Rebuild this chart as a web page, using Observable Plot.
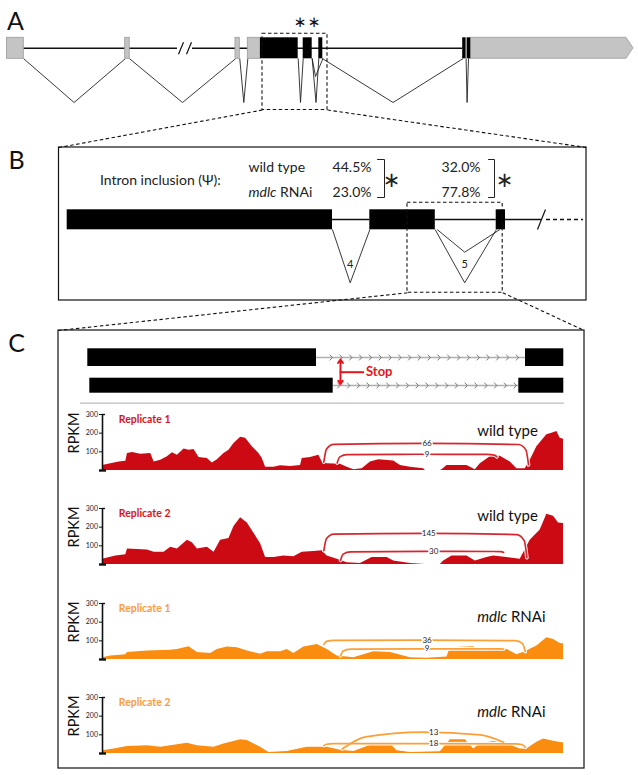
<!DOCTYPE html>
<html><head><meta charset="utf-8">
<script src="https://cdn.jsdelivr.net/npm/d3@7"></script>
<script src="https://cdn.jsdelivr.net/npm/@observablehq/plot@0.6"></script>
<style>
html,body{margin:0;padding:0;background:#fff;}
#fig{position:relative;width:638px;height:775px;overflow:hidden;}
#fig svg{position:absolute;}
</style></head><body><div id="fig"></div>
<script>
// ================= DATA =================
// Panel A gene model (gene coordinates, arbitrary units)
const geneA_utr = [[6.5,23.3],[124.7,129.2],[235,239.3],[247.3,260]];
const geneA_cds = [[260,297.7],[302.7,311.7],[318.3,322.3],[462.2,465.6],[466.6,470.3]];
const geneA_utr3 = [470.3, 626, 633];
const geneA_introns = [[23.3,177],[192,462.2]];
const geneA_breaks = [180.5, 188.5];
const geneA_splices = [[23.3,73.6,124.7],[129.2,182,235],[239.3,243.3,247.3],[297.7,300,302.7],[311.7,315.5,318.3],[322.3,392.6,462.2],[465.6,466.6,468]];
const geneA_altSplices = [[311.7,315,322.3]];
const geneA_stars = [299.5, 313.5];

// Panel B: zoomed exons / introns
const geneB_exons = [[66.7,332],[369.3,434.8],[495.7,505]];
const geneB_introns = [[332,369.3],[434.8,495.7],[505,541]];
const geneB_continue = [546,583];
const geneB_junctions = [{a:332,tip:349.7,b:369.3,label:"4",kind:"outer"},{a:434.8,tip:464.2,b:495.7,label:"5",kind:"outer"},{a:437,tip:464.2,b:499,label:"",kind:"inner"}];
const psiConditions = ["wild type","mdlc RNAi"];
const psiIntron4 = ["44.5%","23.0%"];
const psiIntron5 = ["32.0%","77.8%"];

// Panel C transcripts
const transcripts = [
  {exons:[[87.3,316],[525,563.3]]},
  {exons:[[89.3,332.7],[518.3,563.3]]}
];

// Coverage tracks: [position, RPKM]
const wt1 = [[125,27],[150,36],[175,45],[195,49],[200,91],[215,96],[240,87],[270,91],[280,45],[300,55],[320,73],[335,95],[350,82],[370,115],[385,109],[400,113],[415,69],[440,64],[455,40],[470,58],[490,91],[505,109],[520,145],[540,178],[555,173],[575,127],[595,91],[605,64],[615,18],[640,18],[660,25],[690,22],[720,27],[725,64],[750,69],[775,82],[785,45],[800,36],[840,33],[860,18],[880,4],[905,9],[930,45],[955,58],[1000,51],[1020,27],[1050,18],[1090,9],[1095,0],[1140,0],[1145,4],[1160,27],[1220,27],[1245,4],[1260,36],[1290,73],[1320,76],[1350,45],[1370,9],[1395,9],[1410,55],[1430,127],[1460,191],[1475,200],[1490,209],[1500,173],[1510,167]];
const wt2 = [[125,28],[165,46],[195,52],[200,83],[260,78],[280,65],[310,65],[330,93],[350,83],[380,130],[395,117],[410,83],[440,93],[460,65],[480,130],[505,139],[520,204],[540,250],[560,222],[580,167],[600,111],[615,37],[640,37],[670,46],[700,41],[725,65],[760,70],[785,74],[800,46],[830,28],[860,9],[900,6],[935,37],[980,37],[1000,19],[1050,6],[1095,0],[1140,0],[1150,19],[1175,46],[1220,46],[1245,19],[1280,37],[1300,46],[1340,37],[1380,28],[1410,130],[1440,185],[1460,269],[1480,259],[1495,222],[1510,219]];
const kd1 = [[125,10],[150,19],[195,25],[200,37],[260,46],[330,49],[350,54],[385,68],[410,37],[450,32],[470,54],[500,67],[530,63],[560,46],[600,28],[620,42],[660,42],[680,54],[700,32],[730,67],[770,81],[800,54],[830,19],[880,10],[940,42],[990,37],[1050,10],[1100,7],[1160,14],[1170,63],[1240,68],[1260,46],[1300,49],[1340,54],[1370,25],[1395,42],[1430,72],[1460,116],[1480,107],[1500,86],[1510,84]];
const kd2 = [[125,15],[160,24],[200,38],[260,42],[300,33],[380,55],[410,42],[460,33],[490,51],[540,73],[560,69],[600,33],[625,5],[680,11],[740,33],[800,33],[840,18],[880,11],[935,47],[990,51],[1010,15],[1050,5],[1140,9],[1170,73],[1215,73],[1240,24],[1260,51],[1300,64],[1340,51],[1380,24],[1400,24],[1430,60],[1450,78],[1480,65],[1510,56]];

// Junction reads: count, start, end, RPKM at ends / apex, label position
const wt1J = [{count:66,start:790,end:1405,y0:45,y1:30,top:145,at:1100},{count:9,start:830,end:1310,y0:40,y1:73,top:87,at:1100}];
const wt2J = [{count:145,start:790,end:1400,y0:74,y1:37,top:167,at:1105},{count:30,start:840,end:1330,y0:22,y1:65,top:70,at:1120}];
const kd1J = [{count:36,start:790,end:1395,y0:81,y1:42,top:104,at:1100},{count:9,start:840,end:1330,y0:19,y1:56,top:57,at:1100}];
const kd2J = [{count:13,start:845,end:1330,y0:24,y1:60,top:115,at:1120,round:true},{count:18,start:790,end:1395,y0:42,y1:33,top:53,at:1120}];

const rpkmTicks = [100,200,300];

// ================= DRAW =================
const FONT = "Lato, 'Open Sans', sans-serif";
const fig = document.getElementById("fig");
const place = (svg, left, top) => { svg.style.left = left + "px"; svg.style.top = top + "px"; fig.appendChild(svg); return svg; };
function italicize(svg) {
  d3.select(svg).selectAll("text").each(function() {
    if (this.childNodes.length === 1 && this.textContent === "mdlc RNAi") {
      const t = d3.select(this);
      t.text(null).style("white-space", "pre");
      t.append("tspan").attr("font-style", "italic").text("mdlc");
      t.append("tspan").text(" RNAi");
    }
  });
}

const A = {top:37.3, bot:58.3, line:47.8, tip:102, altTip:76};
const B = {top:209.3, bot:229.3, line:219, tip:282.3, innerTip:251.7};
const vPoints = (list, y0, yTip) => list.flatMap((d,i) => [{id:i,x:d[0],y:y0},{id:i,x:d[1],y:yTip},{id:i,x:d[2],y:y0}]);

const stopX = 340;
const chevronRows = [
  {from:330.7, to:520, y:357},
  {from:338.3, to:515, y:385}
];
const chevronPts = chevronRows.flatMap((r, ri) => d3.range(r.from, r.to, 9.8).flatMap((x, k) => {
  const id = ri * 100 + k;
  return [{id, x:x-1.2, y:r.y-2.6}, {id, x:x+1.2, y:r.y}, {id, x:x-1.2, y:r.y+2.6}];
}));

const bg = Plot.plot({
  width:638, height:775, margin:0,
  x:{domain:[0,638], range:[0,638], axis:null},
  y:{domain:[0,775], range:[0,775], axis:null},
  style:{fontFamily:FONT, background:"transparent"},
  marks:[
    // panel letters
    Plot.text(["A","B","C"], {x:[15,16,16], y:[21.5,160,343], text:d=>d, fontSize:25, fill:"#111"}),
    // ---------- Panel A ----------
    Plot.ruleY(geneA_introns, {x1:d=>d[0], x2:d=>d[1], y:()=>A.line, stroke:"#111", strokeWidth:1.6}),
    Plot.link(geneA_breaks, {x1:d=>d-2.5, x2:d=>d+2.5, y1:()=>A.line+6, y2:()=>A.line-6, stroke:"#111", strokeWidth:1.2}),
    Plot.line(vPoints(geneA_splices, A.bot, A.tip), {x:"x", y:"y", z:"id", stroke:"#222", strokeWidth:0.9}),
    Plot.line(vPoints(geneA_altSplices, A.bot, A.altTip), {x:"x", y:"y", z:"id", stroke:"#222", strokeWidth:0.9}),
    Plot.rect(geneA_utr, {x1:d=>d[0], x2:d=>d[1], y1:()=>A.top, y2:()=>A.bot, fill:"#c4c4c4", stroke:"#9a9a9a", strokeWidth:0.8}),
    Plot.areaY([{x:geneA_utr3[0],y1:A.top,y2:A.bot},{x:geneA_utr3[1],y1:A.top,y2:A.bot},{x:geneA_utr3[2],y1:(A.top+A.bot)/2,y2:(A.top+A.bot)/2}], {x:"x", y1:"y1", y2:"y2", fill:"#c4c4c4", stroke:"#9a9a9a", strokeWidth:0.8}),
    Plot.rect(geneA_cds, {x1:d=>d[0], x2:d=>d[1], y1:()=>A.top, y2:()=>A.bot, fill:"#000"}),
    Plot.text(geneA_stars, {x:d=>d, y:()=>22, text:()=>"∗", fontSize:15, fontFamily:"DejaVu Sans", fill:"#111"}),
    Plot.rect([0], {x1:()=>262, x2:()=>327, y1:()=>33.3, y2:()=>109.5, fill:"none", stroke:"#111", strokeWidth:1.1, strokeDasharray:"3.5,2.5"}),
    Plot.link([[262,58.5],[327,586]], {x1:d=>d[0], x2:d=>d[1], y1:()=>109.5, y2:()=>147, stroke:"#111", strokeWidth:1.1, strokeDasharray:"3.5,2.5"}),
    // ---------- Panel B ----------
    Plot.rect([0], {x1:()=>58.5, x2:()=>586, y1:()=>147, y2:()=>300, fill:"none", stroke:"#111", strokeWidth:1.2}),
    Plot.text(["Intron inclusion (Ψ):"], {x:()=>99.4, y:()=>180.5, text:d=>d, textAnchor:"start", fontSize:14, fill:"#222"}),
    Plot.text(psiConditions, {x:()=>248, y:(d,i)=>[167.5,192.5][i], text:d=>d, textAnchor:"start", fontSize:14, fill:"#222"}),
    Plot.text(psiIntron4, {x:()=>371, y:(d,i)=>[167.5,192.5][i], text:d=>d, textAnchor:"end", fontSize:14, fill:"#222"}),
    Plot.text(psiIntron5, {x:()=>480, y:(d,i)=>[167.5,192.5][i], text:d=>d, textAnchor:"end", fontSize:14, fill:"#222"}),
    Plot.line([[377,159],[384,159],[384,197],[377,197]], {x:d=>d[0], y:d=>d[1], stroke:"#222", strokeWidth:1}),
    Plot.line([[488,159],[494,159],[494,197],[488,197]], {x:d=>d[0], y:d=>d[1], stroke:"#222", strokeWidth:1}),
    Plot.text([391, 504], {x:d=>d, y:()=>180, text:()=>"∗", fontSize:21, fontFamily:"DejaVu Sans", fill:"#222"}),
    Plot.ruleY(geneB_introns, {x1:d=>d[0], x2:d=>d[1], y:()=>B.line, stroke:"#111", strokeWidth:1.5}),
    Plot.link([541], {x1:d=>d-4, x2:d=>d+4, y1:()=>B.line+10, y2:()=>B.line-10, stroke:"#111", strokeWidth:1.2}),
    Plot.ruleY([geneB_continue], {x1:d=>d[0], x2:d=>d[1], y:()=>B.line, stroke:"#111", strokeWidth:1.5, strokeDasharray:"4,3"}),
    Plot.line(vPoints(geneB_junctions.filter(d=>d.kind==="outer").map(d=>[d.a,d.tip,d.b]), B.bot, B.tip), {x:"x", y:"y", z:"id", stroke:"#222", strokeWidth:0.9}),
    Plot.line(vPoints(geneB_junctions.filter(d=>d.kind==="inner").map(d=>[d.a,d.tip,d.b]), B.bot, B.innerTip), {x:"x", y:"y", z:"id", stroke:"#222", strokeWidth:0.9}),
    Plot.rect(geneB_exons, {x1:d=>d[0], x2:d=>d[1], y1:()=>B.top, y2:()=>B.bot, fill:"#000"}),
    Plot.text(geneB_junctions.filter(d=>d.label), {x:d=>d.tip, y:()=>264, text:"label", fontSize:11, fill:"#222"}),
    Plot.rect([0], {x1:()=>407, x2:()=>502.2, y1:()=>202.3, y2:()=>292.3, fill:"none", stroke:"#111", strokeWidth:1.1, strokeDasharray:"3.5,2.5"}),
    Plot.link([[407,58],[502.2,584]], {x1:d=>d[0], x2:d=>d[1], y1:()=>292.3, y2:()=>330, stroke:"#111", strokeWidth:1.1, strokeDasharray:"3.5,2.5"}),
    // ---------- Panel C ----------
    Plot.rect([0], {x1:()=>58, x2:()=>584, y1:()=>330, y2:()=>768, fill:"none", stroke:"#111", strokeWidth:1.2}),
    Plot.ruleY(transcripts, {x1:d=>d.exons[0][1], x2:d=>d.exons[1][0], y:(d,i)=>[357,385][i], stroke:"#b0b0b0", strokeWidth:1.6}),
    Plot.line(chevronPts, {x:"x", y:"y", z:"id", stroke:"#6e6e6e", strokeWidth:0.9}),
    Plot.rect(transcripts.flatMap((t,i)=>t.exons.map(e=>({e,i}))), {x1:d=>d.e[0], x2:d=>d.e[1], y1:d=>[348.3,377.7][d.i], y2:d=>[366,392.7][d.i], fill:"#000"}),
    Plot.arrow([{y:359},{y:383.5}], {x1:()=>stopX, x2:()=>stopX, y1:()=>371.7, y2:"y", stroke:"#e8141b", strokeWidth:2, headLength:6, headAngle:70}),
    Plot.ruleY([371.7], {x1:()=>stopX, x2:()=>364, y:d=>d, stroke:"#e8141b", strokeWidth:2}),
    Plot.text(["Stop"], {x:()=>365.5, y:()=>371.7, text:d=>d, textAnchor:"start", fontSize:13, fontWeight:"bold", fill:"#e8141b"}),
    Plot.ruleY([402.7], {x1:()=>80, x2:()=>564, y:d=>d, stroke:"#bdbdbd", strokeWidth:1.2})
  ]
});
italicize(bg);
place(bg, 0, 0);

function arcPoints(junctions) {
  return junctions.flatMap((j, i) => {
    const sh = j.round ? 70 : 30;
    const pts = j.round
      ? [[j.start,j.y0],[j.start+sh,j.y0+(j.top-j.y0)*0.72],[(j.start+j.end)/2,j.top],[j.end-sh,j.y1+(j.top-j.y1)*0.72],[j.end,j.y1]]
      : [[j.start,j.y0],[j.start+8,j.y0+(j.top-j.y0)*0.7],[j.start+sh,j.top-(j.top-j.y0)*0.05],[(j.start+j.end)/2,j.top],[j.end-sh,j.top-(j.top-j.y1)*0.05],[j.end-8,j.y1+(j.top-j.y1)*0.7],[j.end,j.y1]];
    return pts.map(p => ({id:i, x:p[0], y:p[1]}));
  });
}

function track(cov, junctions, cfg, top) {
  const pts = arcPoints(junctions);
  const svg = Plot.plot({
    width:515, height:72, marginLeft:42, marginRight:12, marginTop:10, marginBottom:6,
    style:{fontFamily:FONT, background:"transparent", overflow:"visible"},
    x:{domain:[125,1510], axis:null},
    y:{domain:[0,300], axis:null},
    marks:[
      Plot.areaY(cov, {x:d=>d[0], y:d=>d[1], fill:cfg.fill}),
      Plot.line(pts, {x:"x", y:"y", z:"id", stroke:"white", strokeWidth:3.6, curve:"monotone-x"}),
      Plot.line(pts, {x:"x", y:"y", z:"id", stroke:cfg.arc, strokeWidth:1.7, curve:"monotone-x"}),
      Plot.text(junctions, {x:"at", y:"top", text:d=>String(d.count), fontSize:8, fill:"#222", stroke:"white", strokeWidth:3}),
      Plot.ruleX([125], {y1:0, y2:300, stroke:"#111", strokeWidth:1.6}),
      Plot.axisY({ticks:rpkmTicks, tickSize:3, tickPadding:1.5, fontSize:7, label:null, stroke:"#111", fill:"#222"}),
      Plot.axisY({ticks:[0], tickSize:3, tickFormat:()=>"", strokeWidth:2.4, stroke:"#111"}),
      Plot.ruleY([0], {x1:125, x2:137, stroke:"#111", strokeWidth:2.4}),
      Plot.ruleY([300], {x1:125, x2:134, stroke:"#111", strokeWidth:1.4}),
      Plot.text(["RPKM"], {frameAnchor:"top-left", dx:-27.7, dy:18.5, rotate:-90, text:d=>d, textAnchor:"middle", lineAnchor:"middle", fontSize:14.5, fill:"#111"}),
      Plot.text([cfg.rep], {frameAnchor:"top-left", dx:16.3, dy:5, text:d=>d, textAnchor:"start", lineAnchor:"middle", fontSize:10.5, fontWeight:"bold", fill:cfg.repColor}),
      Plot.text([cfg.cond], {frameAnchor:"top-left", dx:374.7, dy:cfg.condDy, text:d=>d, textAnchor:"start", lineAnchor:"middle", fontSize:15, fill:"#111"})
    ]
  });
  italicize(svg);
  place(svg, 60, top);
}

const wtStyle = {fill:"#cc0a14", arc:"#d9262e", repColor:"#d7141c"};
const kdStyle = {fill:"#fa8c0f", arc:"#fc9f37", repColor:"#fb9d3e"};
track(wt1, wt1J, {...wtStyle, rep:"Replicate 1", cond:"wild type", condDy:17}, 469.5-66);
track(wt2, wt2J, {...wtStyle, rep:"Replicate 2", cond:"wild type", condDy:7.5}, 563.5-66);
track(kd1, kd1J, {...kdStyle, rep:"Replicate 1", cond:"mdlc RNAi", condDy:14}, 658.5-66);
track(kd2, kd2J, {...kdStyle, rep:"Replicate 2", cond:"mdlc RNAi", condDy:15}, 752.7-66);
</script></body></html>
